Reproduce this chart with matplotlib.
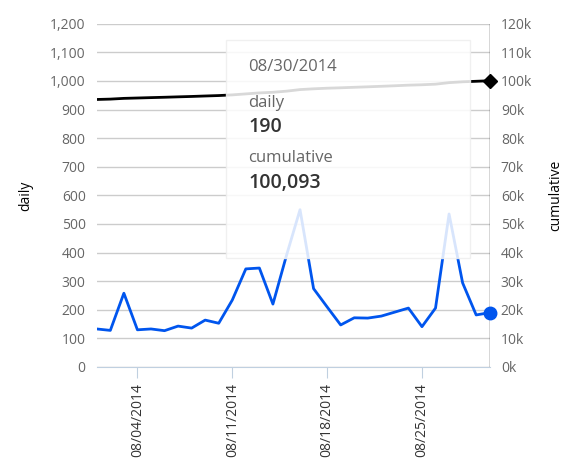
import matplotlib
matplotlib.use("Agg")
import matplotlib.pyplot as plt
import matplotlib.dates as mdates
import numpy as np
import pandas as pd
from matplotlib.patches import Rectangle

dates = pd.date_range("2014-08-01", "2014-08-30")
daily = [133, 128, 258, 130, 133, 127, 143, 136, 164, 153,
         234, 343, 346, 220, 390, 550, 274, 210, 147, 172,
         171, 178, 192, 206, 141, 206, 535, 294, 182, 190]
cumulative = [93540, 93668, 93926, 94056, 94189, 94316, 94459, 94595, 94759, 94912,
              95146, 95489, 95835, 96055, 96445, 96995, 97269, 97479, 97626, 97798,
              97969, 98147, 98339, 98545, 98686, 98892, 99427, 99721, 99903, 100093]
tick_dates = pd.to_datetime(["2014-08-04", "2014-08-11", "2014-08-18", "2014-08-25"])

plt.rcParams['font.family'] = ['Open Sans', 'DejaVu Sans']
fig = plt.figure(figsize=(5.83, 4.76), dpi=100)
ax = fig.add_axes([0.166, 0.229, 0.674, 0.721])
ax2 = ax.twinx()

ax.set_ylim(0, 1200)
ax2.set_ylim(0, 120000)
ax.set_xlim(dates[0], dates[-1])
ax.set_yticks(range(0, 1201, 100))
ax.set_yticklabels([f"{v:,}" for v in range(0, 1201, 100)])
ax2.set_yticks(range(0, 120001, 10000))
ax2.set_yticklabels(["0k"] + [f"{v//1000}k" for v in range(10000, 120001, 10000)])
for a in (ax, ax2):
    a.tick_params(axis='y', length=0, labelsize=10, colors='#666666', pad=8)
    for s in a.spines.values():
        s.set_visible(False)
ax.grid(axis='y', color='#cccccc', lw=1)
ax.set_axisbelow(True)
ax.spines['bottom'].set_visible(True)
ax.spines['bottom'].set_color('#c0d0e0')
ax.set_xticks(tick_dates)
ax.xaxis.set_major_formatter(mdates.DateFormatter("%m/%d/%Y"))
ax.tick_params(axis='x', rotation=90, labelsize=10, colors='#c0d0e0', labelcolor='#333333', length=8)
ax.set_ylabel("daily", fontsize=10, labelpad=12)
ax2.set_ylabel("cumulative", fontsize=10, labelpad=12)

ax.plot(dates, daily, color='#0055ee', lw=2, zorder=3)
ax2.plot(dates, cumulative, color='#000000', lw=2, zorder=3)
ax.axvline(dates[-1], color='#333333', lw=1, zorder=4)
ax.plot(dates[-1], daily[-1], 'o', color='#0055ee', ms=9, zorder=6, clip_on=False)
ax2.plot(dates[-1], cumulative[-1], 'D', color='#000000', ms=7, zorder=6, clip_on=False)

# tooltip
tip = Rectangle((226/583, 1-258/476), (470-226)/583, (258-40)/476, transform=fig.transFigure,
                facecolor='white', alpha=0.85, edgecolor='#eeeeee', zorder=10)
fig.patches.append(tip)
fig.text(248/583, 1-67/476, "08/30/2014", fontsize=12, color='#666666', va='center', zorder=11)
fig.text(248/583, 1-103/476, "daily", fontsize=12, color='#666666', va='center', zorder=11)
fig.text(248/583, 1-127/476, "190", fontsize=14, color='#333333', va='center', weight='semibold', zorder=11)
fig.text(248/583, 1-158/476, "cumulative", fontsize=12, color='#666666', va='center', zorder=11)
fig.text(248/583, 1-183/476, "100,093", fontsize=14, color='#333333', va='center', weight='semibold', zorder=11)

fig.savefig("out.png", dpi=100)
